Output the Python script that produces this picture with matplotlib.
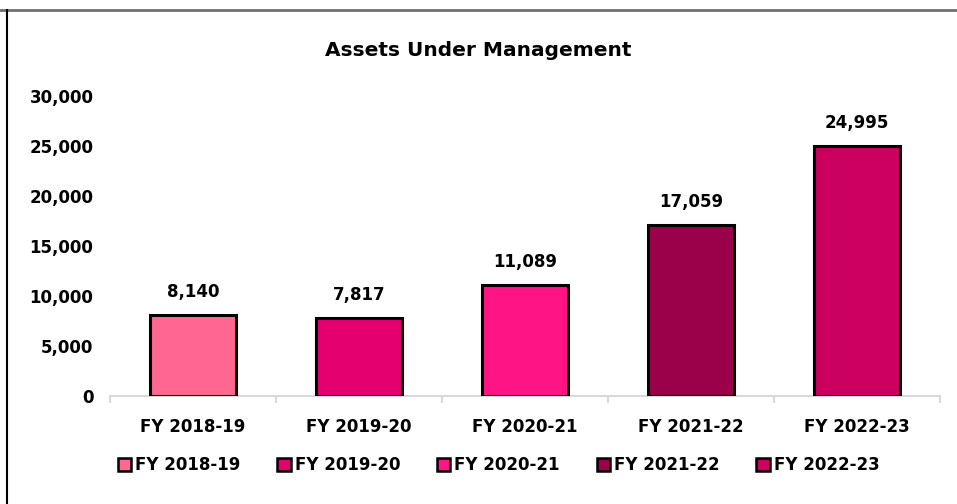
import matplotlib
matplotlib.use('Agg')
import matplotlib.pyplot as plt
from matplotlib.lines import Line2D

years = ['FY 2018-19', 'FY 2019-20', 'FY 2020-21', 'FY 2021-22', 'FY 2022-23']
aum = [8140, 7817, 11089, 17059, 24995]
colors = ['#FF6690', '#E4006F', '#FF1485', '#9B004A', '#CC005F']

plt.rcParams['font.family'] = 'DejaVu Sans'
plt.rcParams['font.weight'] = 'bold'

fig = plt.figure(figsize=(9.57, 5.04), dpi=100)
ax = fig.add_axes([0.115, 0.214, 0.867, 0.596])

x = range(len(years))
bars = ax.bar(x, aum, 0.52, color=colors, edgecolor='black', linewidth=2.2,
              label=years, zorder=3)

for i, v in enumerate(aum):
    ax.text(i, v + 1400, f'{v:,}', ha='center', va='bottom', fontsize=12,
            fontweight='bold')

ax.set_xlim(-0.5, len(years) - 0.5)
ax.set_ylim(0, 30000)
ax.set_yticks(range(0, 30001, 5000))
ax.set_yticklabels([f'{t:,}' for t in range(0, 30001, 5000)], fontsize=12)
ax.set_xticks(x)
ax.set_xticklabels(years, fontsize=12)

# boundary ticks on the category axis
ax.set_xticks([i - 0.5 for i in range(len(years) + 1)], minor=True)
ax.tick_params(axis='x', which='major', length=0, pad=16)
ax.tick_params(axis='x', which='minor', length=5, color='#D9D9D9', width=1.5)
ax.tick_params(axis='y', length=0, pad=12)

for s in ['top', 'right', 'left']:
    ax.spines[s].set_visible(False)
ax.spines['bottom'].set_color('#D9D9D9')
ax.spines['bottom'].set_linewidth(1.5)

fig.suptitle('Assets Under Management', y=0.918, fontsize=14.5, fontweight='bold')

handles = [plt.Rectangle((0, 0), 1, 1, facecolor=c, edgecolor='black', linewidth=1.8)
           for c in colors]
fig.legend(handles, years, loc='center', bbox_to_anchor=(0.521, 0.077), ncol=5,
           frameon=False, fontsize=12, handlelength=0.8, handleheight=0.8,
           handletextpad=0.25, columnspacing=2.2)

# chart frame
fig.add_artist(Line2D([0, 1], [1 - 10 / 504, 1 - 10 / 504], color='#707070', linewidth=2))
fig.add_artist(Line2D([7 / 957, 7 / 957], [0, 1 - 10 / 504], color='black', linewidth=1.5))

fig.savefig('out.png', dpi=100)
